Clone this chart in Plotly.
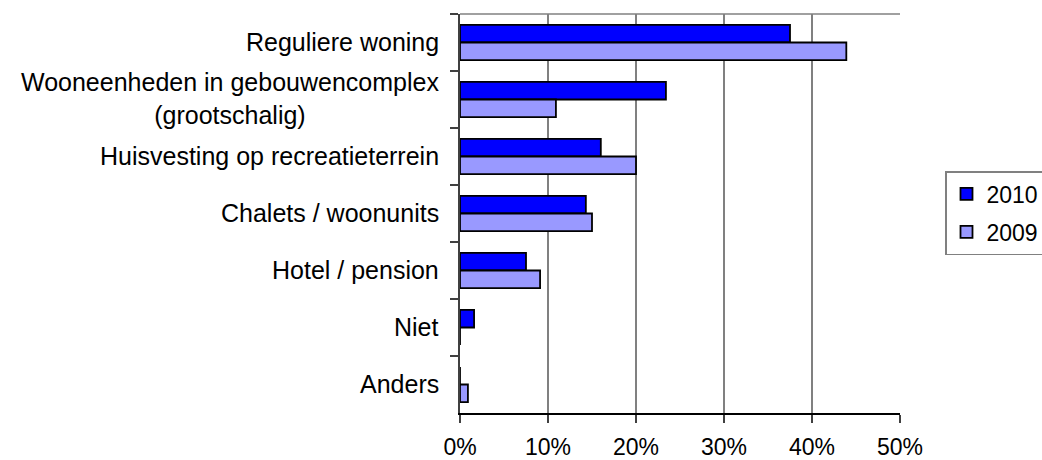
import plotly.graph_objects as go

categories = ["Reguliere woning",
              "Wooneenheden in gebouwencomplex<br>(grootschalig)",
              "Huisvesting op recreatieterrein",
              "Chalets / woonunits",
              "Hotel / pension",
              "Niet",
              "Anders"]
cat_keys = ["Reguliere woning", "Wooneenheden", "Huisvesting", "Chalets", "Hotel", "Niet", "Anders"]
values_2010 = [0.375, 0.234, 0.160, 0.143, 0.075, 0.016, 0.0]
values_2009 = [0.439, 0.109, 0.200, 0.150, 0.091, 0.0, 0.009]
x_ticks = [0, 0.1, 0.2, 0.3, 0.4, 0.5]

FONT = "Liberation Sans, Arial, sans-serif"

fig = go.Figure()
fig.add_trace(go.Bar(y=cat_keys, x=values_2010, orientation="h", name="2010", legendgroup="a",
                     marker=dict(color="#0000FF", line=dict(color="black", width=1.8))))
fig.add_trace(go.Bar(y=cat_keys, x=values_2009, orientation="h", name="2009", legendgroup="b",
                     marker=dict(color="#9999FF", line=dict(color="black", width=1.8))))

for key, label in zip(cat_keys, categories):
    fig.add_annotation(x=0, xref="paper", xanchor="right", xshift=-19,
                       y=key, yref="y", yanchor="middle", yshift=1,
                       text=label, showarrow=False, align="center",
                       font=dict(family=FONT, size=25, color="black"))

fig.add_shape(type="line", xref="paper", yref="paper", x0=0, x1=1, y0=1, y1=1,
              line=dict(color="#808080", width=1.5))

fig.update_layout(
    width=1042, height=460,
    margin=dict(l=460, r=142, t=14, b=47),
    paper_bgcolor="white", plot_bgcolor="white",
    barmode="group", bargap=0.385, bargroupgap=0,
    font=dict(family=FONT, size=23, color="black"),
    showlegend=True,
    legend=dict(xref="container", yref="container", x=945 / 1042, y=1 - 171 / 460,
                xanchor="left", yanchor="top",
                bordercolor="#808080", borderwidth=1.5,
                font=dict(family=FONT, size=23, color="black"),
                traceorder="grouped", tracegroupgap=5, bgcolor="white",
                itemwidth=30),
    xaxis=dict(range=[0, 0.5], tickvals=x_ticks, tickformat=".0%", automargin=False,
               showgrid=True, gridcolor="#808080", gridwidth=1.5,
               showline=True, linecolor="black", linewidth=1.5,
               ticks="outside", ticklen=8, tickcolor="#404040", tickwidth=1.5,
               ticklabelstandoff=5, tickfont=dict(size=23),
               zeroline=False, fixedrange=True),
    yaxis=dict(autorange="reversed", showticklabels=False, automargin=False,
               showgrid=False, showline=True, linecolor="#404040", linewidth=1.5,
               ticks="outside", ticklen=8, tickcolor="#404040", tickwidth=1.5,
               tickson="boundaries", zeroline=False),
)

fig.write_html("out.html", config={"displayModeBar": False},
               post_script="document.body.style.margin='0';document.body.style.padding='0';")
